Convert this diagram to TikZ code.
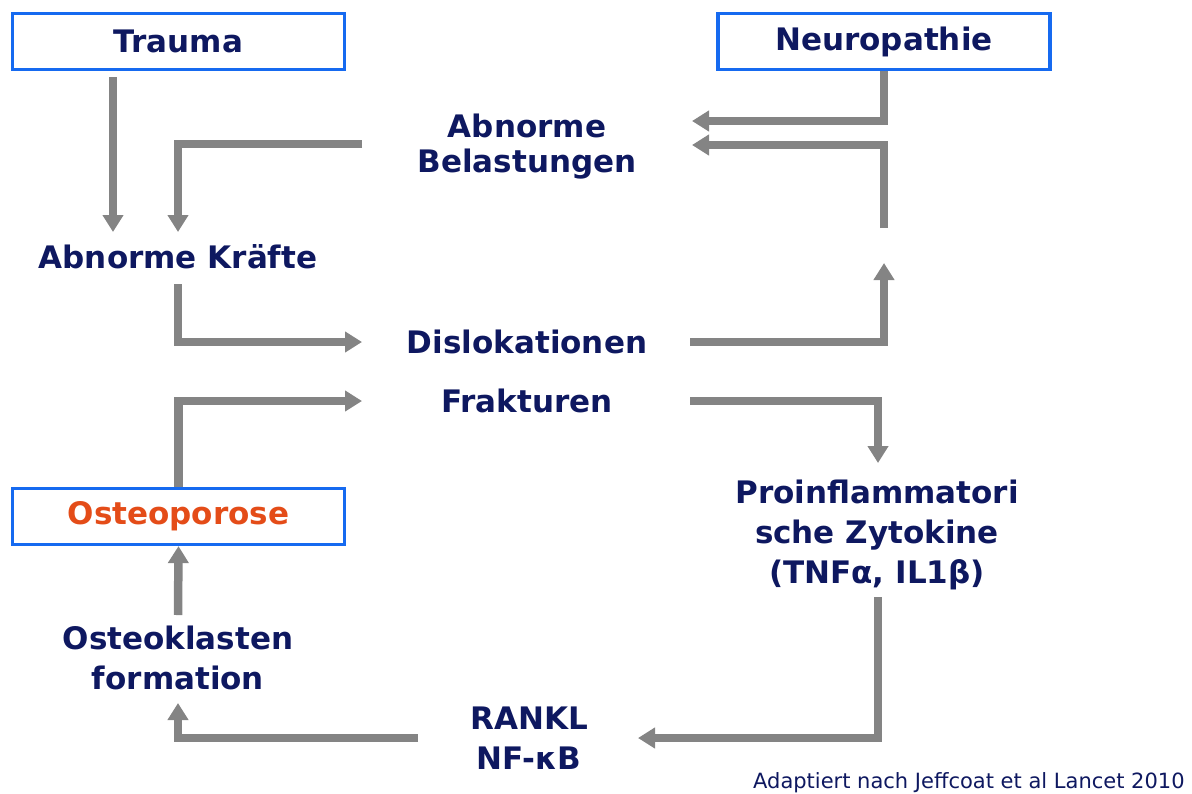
\documentclass[tikz,border=0pt]{standalone}
\usepackage{fontspec}
\setmainfont{DejaVu Sans}
\usetikzlibrary{arrows.meta}
\definecolor{textblue}{RGB}{14,24,96}
\definecolor{boxblue}{RGB}{22,106,240}
\definecolor{flowgray}{RGB}{132,132,132}
\definecolor{osteoorange}{RGB}{228,76,24}
\tikzset{
  box/.style={draw=boxblue, line width=1.6pt, fill=white, minimum width=166pt, minimum height=28pt,
    inner sep=0pt, text=textblue, font=\fontsize{15.5}{20}\selectfont\bfseries},
  lbl/.style={inner sep=0pt, align=center, text=textblue, font=\fontsize{15.5}{20}\selectfont\bfseries},
  flow/.style={draw=flowgray, line width=4.25pt, -{Triangle[width=10pt,length=8.5pt]}}
}
\begin{document}
\begin{tikzpicture}[x=0.5pt, y=-0.5pt]
  \useasboundingbox (0,0) rectangle (1192,793);

  % boxes
  \node[box] (trauma) at (178.5,41.5) {Trauma};
  \node[box] (neuro) at (884,41.5) {Neuropathie};
  \node[box, text=osteoorange] (osteo) at (178.5,516.5) {Osteoporose};

  % labels
  \node[lbl, font=\fontsize{15.5}{17.5}\selectfont\bfseries] (belast) at (527,147) {Abnorme\\Belastungen};
  \node[lbl, anchor=base] (kraefte) at (178,268) {Abnorme Kräfte};
  \node[lbl, anchor=base] (disloc) at (527,353) {Dislokationen};
  \node[lbl, anchor=base] (fraktur) at (527,412) {Frakturen};
  \node[lbl] (proinfl) at (877,535) {Proinflammatori\\sche Zytokine\\(TNFα, IL1β)};
  \node[lbl] (oklast) at (178,658) {Osteoklasten\\formation};
  \node[lbl] (rankl) at (529,738) {RANKL\\NF-κB};
  \node[inner sep=0pt, anchor=base east, text=textblue, font=\fontsize{10.5}{12}\selectfont] (quelle) at (1185,788)
    {Adaptiert nach Jeffcoat et al Lancet 2010};

  % free ends
  \coordinate (belA) at (692,121);
  \coordinate (belB) at (692,145);
  \coordinate (belC) at (884,228);
  \coordinate (belL) at (362,144);
  \coordinate (kraA) at (178,232);
  \coordinate (kraT) at (113,232);
  \coordinate (kraB) at (178,284);
  \coordinate (disL) at (362,342);
  \coordinate (disR) at (690,342);
  \coordinate (disU) at (884,263);
  \coordinate (frkL) at (362,401);
  \coordinate (frkR) at (690,401);
  \coordinate (proT) at (878,463);
  \coordinate (proB) at (878,597);
  \coordinate (rnkR) at (638,738);
  \coordinate (rnkL) at (418,738);
  \coordinate (okB) at (178,703);
  \coordinate (okT) at (178,615);

  % connectors
  \draw[flow, shorten <=3pt] (trauma.south -| kraT) -- (kraT);
  \draw[flow] (neuro.south) |- (belA);
  \draw[flow] (belC) |- (belB);
  \draw[flow] (belL) -| (kraA);
  \draw[flow] (kraB) |- (disL);
  \draw[flow] (disR) -| (disU);
  \draw[flow] (osteo.north) |- (frkL);
  \draw[flow] (frkR) -| (proT);
  \draw[flow] (proB) |- (rnkR);
  \draw[flow] (rnkL) -| (okB);
  \draw[flow] (okT) -- (osteo.south);
\end{tikzpicture}
\end{document}
